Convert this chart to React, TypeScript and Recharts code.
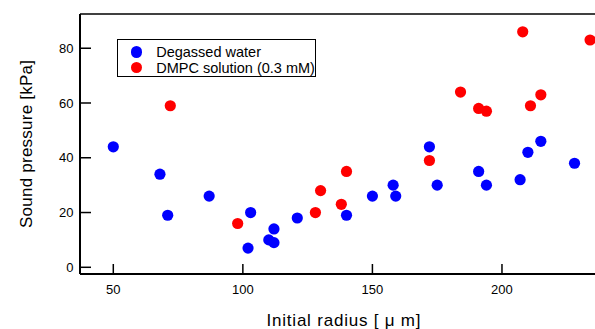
import { ScatterChart, Scatter, XAxis, YAxis, ReferenceLine } from "recharts";

const waterRadius = [50, 68, 71, 87, 102, 103, 110, 112, 112, 121, 140, 150, 158, 159, 172, 175, 191, 194, 207, 210, 215, 228];
const waterPressure = [44, 34, 19, 26, 7, 20, 10, 9, 14, 18, 19, 26, 30, 26, 44, 30, 35, 30, 32, 42, 46, 38];
const dmpcRadius = [72, 98, 128, 130, 138, 140, 172, 184, 191, 194, 208, 211, 215, 234];
const dmpcPressure = [59, 16, 20, 28, 23, 35, 39, 64, 58, 57, 86, 59, 63, 83];
const xTicks = [50, 100, 150, 200];
const yTicks = [0, 20, 40, 60, 80];
const seriesNames = ["Degassed water", "DMPC solution (0.3 mM)"];
const seriesColors = ["#0000ff", "#ff0000"];

const FONT = "'Liberation Sans', Arial, sans-serif";
const X_DOMAIN = [37.15, 235.9];
const Y_DOMAIN = [-2.45, 92.5];

const waterData = waterRadius.map((r, i) => ({ x: r, y: waterPressure[i] }));
const dmpcData = dmpcRadius.map((r, i) => ({ x: r, y: dmpcPressure[i] }));

const XTick = ({ x, y, payload }: any) => (
  <g>
    <line x1={x} x2={x} y1={y} y2={y - 10} stroke="#000" strokeWidth={1.5} />
    <text x={x} y={y + 20} textAnchor="middle" fontSize={13} fontFamily={FONT} fill="#000">
      {payload.value}
    </text>
  </g>
);

const YTick = ({ x, y, payload }: any) => (
  <g>
    <line x1={x} x2={x + 11} y1={y} y2={y} stroke="#000" strokeWidth={1.5} />
    <text x={x - 6.5} y={y} dy="0.35em" textAnchor="end" fontSize={13} fontFamily={FONT} fill="#000">
      {payload.value}
    </text>
  </g>
);

const dot = (color: string) => (p: any) => <circle cx={p.cx} cy={p.cy} r={5.6} fill={color} />;

export default function App() {
  return (
    <div style={{ position: "absolute", left: 0, top: 0, width: 595, height: 329 }}>
      <ScatterChart width={595} height={329} margin={{ top: 14, right: 0, bottom: 0, left: 0 }}>
        <XAxis
          type="number"
          dataKey="x"
          domain={X_DOMAIN}
          ticks={xTicks}
          interval={0}
          allowDataOverflow
          height={55}
          tickSize={0}
          tickMargin={0}
          tickLine={false}
          tick={<XTick />}
          axisLine={{ stroke: "#000", strokeWidth: 2 }}
          label={{
            content: () => (
              <text x={266.5} y={326} textAnchor="start" fontSize={17} textLength={154} lengthAdjust="spacing" fontFamily={FONT} fill="#000">
                Initial radius [ μ m]
              </text>
            ),
          }}
        />
        <YAxis
          type="number"
          dataKey="y"
          domain={Y_DOMAIN}
          ticks={yTicks}
          interval={0}
          allowDataOverflow
          width={80}
          tickSize={0}
          tickMargin={0}
          tickLine={false}
          tick={<YTick />}
          axisLine={{ stroke: "#000", strokeWidth: 2 }}
          label={{
            content: () => (
              <text x={31.5} y={228} transform="rotate(-90 31.5 228)" textAnchor="start" fontSize={17} textLength={168} lengthAdjust="spacing" fontFamily={FONT} fill="#000">
                Sound pressure [kPa]
              </text>
            ),
          }}
        />
        <ReferenceLine y={Y_DOMAIN[1]} stroke="#000" strokeWidth={1.5} ifOverflow="extendDomain" />
        <Scatter name={seriesNames[0]} data={waterData} fill={seriesColors[0]} shape={dot(seriesColors[0])} isAnimationActive={false} />
        <Scatter name={seriesNames[1]} data={dmpcData} fill={seriesColors[1]} shape={dot(seriesColors[1])} isAnimationActive={false} />
      </ScatterChart>
      <div
        style={{
          position: "absolute",
          left: 117,
          top: 39,
          width: 197,
          height: 36,
          border: "1.5px solid #000",
          fontFamily: FONT,
          fontSize: 14.5,
          color: "#000",
        }}
      >
        {seriesNames.map((name, i) => (
          <div key={name} style={{ position: "absolute", left: 13, top: 4 + i * 15.6, height: 16, display: "flex", alignItems: "center", whiteSpace: "nowrap" }}>
            <span style={{ display: "inline-block", width: 11.2, height: 11.2, borderRadius: "50%", background: seriesColors[i], marginRight: 14 }} />
            {name}
          </div>
        ))}
      </div>
    </div>
  );
}
